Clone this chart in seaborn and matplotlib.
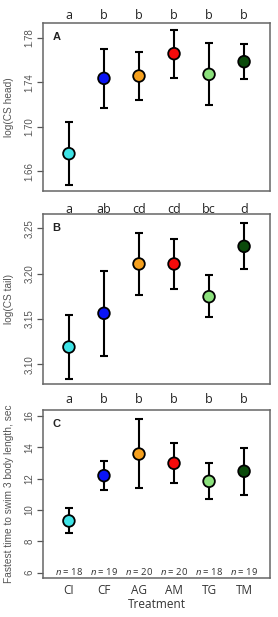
import matplotlib
matplotlib.use('Agg')
import matplotlib.pyplot as plt
import pandas as pd
import seaborn as sns

treatments = ['CI', 'CF', 'AG', 'AM', 'TG', 'TM']
colors = ['#3ee3e6', '#0a14f5', '#f5a01e', '#f50a0a', '#8be07c', '#0b4a0b']

head_mean = [1.6756, 1.7434, 1.7455, 1.7656, 1.7470, 1.7584]
head_lo = [1.6474, 1.7170, 1.7242, 1.7440, 1.7194, 1.7428]
head_hi = [1.7038, 1.7698, 1.7674, 1.7868, 1.7749, 1.7740]

tail_mean = [3.1191, 3.1563, 3.2107, 3.2107, 3.1746, 3.2301]
tail_lo = [3.0842, 3.1097, 3.1761, 3.1830, 3.1518, 3.2048]
tail_hi = [3.1540, 3.2029, 3.2448, 3.2382, 3.1982, 3.2555]

swim_mean = [9.30, 12.19, 13.57, 12.98, 11.83, 12.47]
swim_lo = [8.51, 11.28, 11.38, 11.70, 10.68, 10.96]
swim_hi = [10.11, 13.15, 15.79, 14.28, 13.02, 13.96]

n_sizes = [18, 19, 20, 20, 18, 19]

head_letters = ['a', 'b', 'b', 'b', 'b', 'b']
tail_letters = ['a', 'ab', 'cd', 'cd', 'bc', 'd']
swim_letters = ['a', 'b', 'b', 'b', 'b', 'b']

head_ticks = [1.66, 1.70, 1.74, 1.78]
tail_ticks = [3.10, 3.15, 3.20, 3.25]
swim_ticks = [6, 8, 10, 12, 14, 16]

sns.set_style('white')
plt.rcParams['font.family'] = ['Liberation Sans', 'DejaVu Sans']
plt.rcParams['mathtext.fontset'] = 'custom'
plt.rcParams['mathtext.it'] = 'Open Sans:italic'
plt.rcParams['mathtext.rm'] = 'Open Sans'

GREY = '#555555'


def draw_panel(fig, rect, mean, lo, hi, letters, ticks, ylim, ylabel, tag, letter_pad):
    ax = fig.add_axes(rect)
    df = pd.DataFrame({'pos': range(len(treatments)), 'mean': mean,
                       'lo': lo, 'hi': hi, 'treatment': treatments})
    ax.errorbar(df['pos'], df['mean'], yerr=[df['mean'] - df['lo'], df['hi'] - df['mean']],
                fmt='none', ecolor='black', elinewidth=1.5, capsize=3.2, capthick=1.5, zorder=2)
    sns.scatterplot(data=df, x='pos', y='mean', hue='treatment', palette=colors,
                    s=70, edgecolor='black', linewidth=1.3, legend=False, zorder=3, ax=ax)
    ax.set_xlim(-0.74, 5.74)
    ax.set_ylim(*ylim)
    ax.set_yticks(ticks)
    ax.set_yticklabels([f'{t:g}' if isinstance(t, int) else f'{t:.2f}' for t in ticks],
                       rotation=90, va='center', fontsize=7, color=GREY)
    ax.tick_params(axis='y', direction='out', length=4.5, width=0.9, color=GREY, pad=1.5, left=True)
    ax.set_xticks([])
    ax.set_xlabel('')
    ax.set_ylabel(ylabel, fontsize=7.3, color=GREY)
    ax.yaxis.set_label_coords(-0.128, 0.5)
    for sp in ax.spines.values():
        sp.set_color('#666666')
        sp.set_linewidth(1.1)
    ax.text(0.06, 0.915, tag, transform=ax.transAxes, fontsize=8, fontweight='bold',
            color='#222222', ha='center', va='center')
    for i, lab in enumerate(letters):
        ax.annotate(lab, xy=(i, 1.0), xycoords=('data', 'axes fraction'),
                    xytext=(0, letter_pad), textcoords='offset points',
                    ha='center', va='baseline', fontsize=9, family='Open Sans', color='#222222')
    return ax


fig = plt.figure(figsize=(2.78, 6.17), dpi=100)

draw_panel(fig, [0.1547, 0.6904, 0.8165, 0.2723], head_mean, head_lo, head_hi,
           head_letters, head_ticks, (1.642, 1.7932), 'log(CS head)', 'A', 3.0)
draw_panel(fig, [0.1547, 0.3771, 0.8165, 0.2761], tail_mean, tail_lo, tail_hi,
           tail_letters, tail_ticks, (3.078, 3.2658), 'log(CS tail)', 'B', 1.0)
ax = draw_panel(fig, [0.1547, 0.0627, 0.8165, 0.2728], swim_mean, swim_lo, swim_hi,
                swim_letters, swim_ticks, (5.64, 16.38),
                'Fastest time to swim 3 body length, sec', 'C', 5.0)

for i, n in enumerate(n_sizes):
    ax.text(i, 6.05, f'$n$ = {n}', ha='center', va='center', fontsize=6.8,
            family='Open Sans', color='#333333')

ax.set_xticks(range(len(treatments)))
ax.set_xticklabels(treatments, fontsize=8.5, family='Open Sans', color='#333333')
ax.tick_params(axis='x', length=0, pad=4)
ax.set_xlabel('Treatment', fontsize=8.5, family='Open Sans', color='#333333', labelpad=1)

fig.savefig('out.png', dpi=100)
